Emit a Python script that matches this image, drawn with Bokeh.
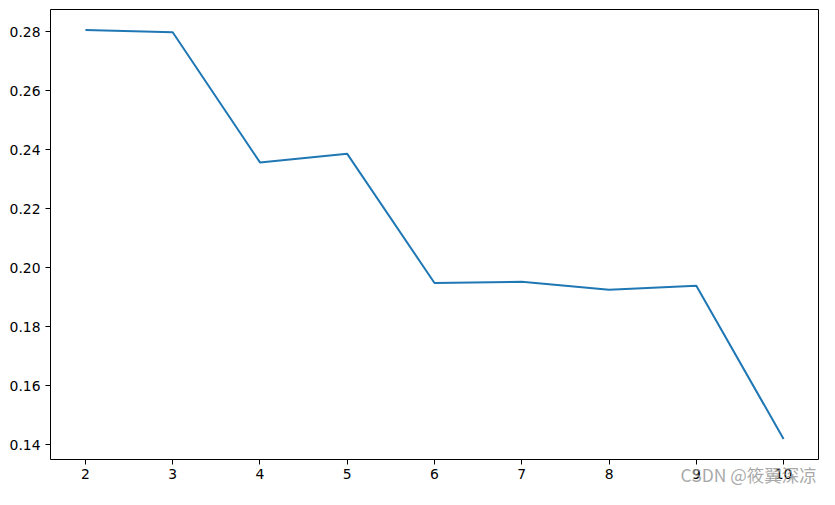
from bokeh.plotting import figure
from bokeh.models import FixedTicker, PrintfTickFormatter, Range1d, LinearAxis
from bokeh.embed import file_html
from bokeh.resources import INLINE

x_vals = [2, 3, 4, 5, 6, 7, 8, 9, 10]
y_vals = [0.2806, 0.2798, 0.2357, 0.2386, 0.1948, 0.1952, 0.1925, 0.1939, 0.1419]
x_ticks = [2, 3, 4, 5, 6, 7, 8, 9, 10]
y_ticks = [0.14, 0.16, 0.18, 0.20, 0.22, 0.24, 0.26, 0.28]
watermark = "CSDN @筱翼深凉"
watermark_pos = 9.6

p = figure(width=819, height=489, output_backend="svg", toolbar_location=None,
           min_border_left=50, min_border_right=1, min_border_top=9, min_border_bottom=26)

ymin, ymax = min(y_vals), max(y_vals)
pad = (ymax - ymin) * 0.05
p.x_range = Range1d(1.6, 10.4)
p.y_range = Range1d(ymin - pad, ymax + pad)

p.line(x_vals, y_vals, line_color="#1f77b4", line_width=2)

p.xgrid.visible = False
p.ygrid.visible = False
p.outline_line_color = "black"
p.outline_line_width = 1
p.outline_line_alpha = 1

for ax in (p.xaxis[0], p.yaxis[0]):
    ax.axis_line_color = None
    ax.major_tick_line_color = "black"
    ax.major_tick_line_width = 1
    ax.major_tick_out = 5
    ax.major_tick_in = 0
    ax.minor_tick_line_color = None
    ax.major_label_text_font = "DejaVu Sans"
    ax.major_label_text_font_size = "13.9px"
    ax.major_label_text_color = "black"

p.xaxis[0].ticker = FixedTicker(ticks=x_ticks)
p.yaxis[0].ticker = FixedTicker(ticks=y_ticks)
p.yaxis[0].formatter = PrintfTickFormatter(format="%.2f")
p.xaxis[0].major_label_standoff = 4
p.yaxis[0].major_label_standoff = 5

# watermark as an extra, tick-less axis that overlaps the tick labels
wm_axis = LinearAxis(ticker=FixedTicker(ticks=[watermark_pos]),
                     major_label_overrides={watermark_pos: watermark})
wm_axis.axis_line_color = None
wm_axis.major_tick_line_color = None
wm_axis.minor_tick_line_color = None
wm_axis.major_tick_out = 0
wm_axis.major_tick_in = 0
wm_axis.major_label_standoff = -20
wm_axis.major_label_text_font = "Noto Sans CJK SC"
wm_axis.major_label_text_font_size = "17.5px"
wm_axis.major_label_text_color = "#999999"
wm_axis.major_label_text_alpha = 0.85
p.add_layout(wm_axis, "below")

open("out.html", "w").write(file_html(p, INLINE))
